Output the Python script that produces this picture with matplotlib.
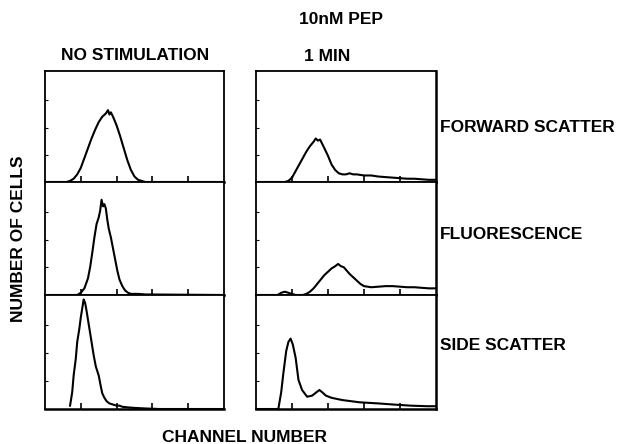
import matplotlib
matplotlib.use("Agg")
import matplotlib.pyplot as plt
import numpy as np

plt.rcParams['font.family'] = ['Liberation Sans', 'DejaVu Sans']

# channel number vs. relative cell count, traced by panel
fs_ctrl_x = [0, 30, 35, 40, 45, 50, 55, 60, 65, 70, 75, 80, 85, 88, 90, 92, 95, 100, 105, 110, 115, 120, 125, 130, 135, 140, 250]
fs_ctrl_y = [0, 0, 0.01, 0.03, 0.07, 0.13, 0.22, 0.31, 0.40, 0.48, 0.55, 0.60, 0.63, 0.66, 0.62, 0.64, 0.60, 0.52, 0.42, 0.31, 0.20, 0.11, 0.05, 0.02, 0.01, 0, 0]

fs_pep_x = [0, 40, 45, 50, 55, 60, 65, 70, 75, 80, 83, 86, 89, 92, 95, 100, 105, 110, 115, 120, 125, 130, 135, 140, 150, 160, 170, 180, 190, 200, 210, 220, 230, 240, 250]
fs_pep_y = [0, 0, 0.01, 0.04, 0.10, 0.16, 0.22, 0.28, 0.33, 0.37, 0.40, 0.38, 0.39, 0.35, 0.31, 0.24, 0.16, 0.11, 0.08, 0.07, 0.07, 0.08, 0.07, 0.07, 0.06, 0.06, 0.05, 0.045, 0.04, 0.035, 0.03, 0.03, 0.025, 0.02, 0.02]

fl_ctrl_x = [0, 45, 50, 55, 60, 63, 66, 69, 72, 75, 77, 79, 81, 83, 85, 87, 89, 92, 95, 98, 101, 104, 108, 112, 116, 120, 130, 140, 250]
fl_ctrl_y = [0, 0, 0.02, 0.06, 0.15, 0.25, 0.38, 0.52, 0.64, 0.70, 0.76, 0.86, 0.80, 0.82, 0.78, 0.68, 0.60, 0.52, 0.42, 0.32, 0.22, 0.14, 0.08, 0.04, 0.02, 0.01, 0.01, 0.005, 0]

fl_pep_x = [0, 30, 35, 40, 45, 50, 55, 65, 70, 75, 80, 85, 90, 95, 100, 105, 110, 114, 118, 122, 126, 130, 135, 140, 145, 150, 160, 170, 180, 190, 200, 210, 220, 230, 240, 250]
fl_pep_y = [0, 0, 0.02, 0.03, 0.02, 0.01, 0, 0, 0.01, 0.03, 0.06, 0.10, 0.14, 0.18, 0.21, 0.24, 0.26, 0.28, 0.26, 0.25, 0.22, 0.19, 0.16, 0.13, 0.10, 0.08, 0.07, 0.075, 0.08, 0.08, 0.075, 0.07, 0.07, 0.065, 0.06, 0.06]

ss_ctrl_x = [35, 38, 40, 43, 45, 48, 50, 52, 54, 56, 58, 60, 62, 65, 68, 71, 75, 78, 80, 83, 86, 90, 95, 100, 104, 108, 115, 125, 140, 160, 250]
ss_ctrl_y = [0.03, 0.15, 0.30, 0.45, 0.60, 0.72, 0.82, 0.90, 0.98, 0.95, 0.88, 0.80, 0.72, 0.60, 0.48, 0.38, 0.30, 0.20, 0.14, 0.10, 0.07, 0.05, 0.04, 0.03, 0.03, 0.02, 0.015, 0.01, 0.005, 0, 0]

ss_pep_x = [0, 31, 35, 38, 42, 45, 48, 51, 55, 59, 64, 71, 78, 84, 88, 92, 97, 105, 120, 144, 170, 191, 215, 238, 250]
ss_pep_y = [0, 0, 0.15, 0.32, 0.52, 0.60, 0.63, 0.58, 0.46, 0.26, 0.17, 0.11, 0.12, 0.15, 0.17, 0.15, 0.12, 0.10, 0.08, 0.06, 0.05, 0.04, 0.03, 0.025, 0.025]

row_labels = ["FORWARD SCATTER", "FLUORESCENCE", "SIDE SCATTER"]
channel_ticks = [50, 100, 150, 200]

panels = [
    [(fs_ctrl_x, fs_ctrl_y), (fs_pep_x, fs_pep_y)],
    [(fl_ctrl_x, fl_ctrl_y), (fl_pep_x, fl_pep_y)],
    [(ss_ctrl_x, ss_ctrl_y), (ss_pep_x, ss_pep_y)],
]

fig = plt.figure(figsize=(6.25, 4.44), dpi=100)

col_left = [0.072, 0.4096]
col_width = [0.2864, 0.288]
row_bottom = [0.5901, 0.3356, 0.0788]
row_height = [0.25, 0.2545, 0.2568]
label_y = [0.712, 0.471, 0.221]

fs = 12.5
for r in range(3):
    for c in range(2):
        ax = fig.add_axes([col_left[c], row_bottom[r], col_width[c], row_height[r]])
        x, y = panels[r][c]
        ax.plot(x, y, color='black', lw=1.5)
        ax.set_xlim(0, 250)
        ax.set_ylim(0, 1.02)
        ax.set_xticks(channel_ticks)
        ax.set_yticks([0.25, 0.5, 0.75])
        ax.tick_params(axis='x', direction='in', length=4, width=1.2, labelbottom=False)
        ax.tick_params(axis='y', direction='in', length=2, width=0.8, labelleft=False)
        for s in ax.spines.values():
            s.set_linewidth(1.3)
        ax.spines['bottom'].set_linewidth(1.8)
        if c == 1:
            ax.spines['right'].set_linewidth(1.8)
    fig.text(0.704, label_y[r], row_labels[r],
             fontsize=fs, fontweight='bold', ha='left', va='center')

fig.text(0.216, 0.874, "NO STIMULATION", fontsize=fs, fontweight='bold', ha='center', va='center')
fig.text(0.523, 0.872, "1 MIN", fontsize=fs, fontweight='bold', ha='center', va='center')
fig.text(0.546, 0.955, "10nM PEP", fontsize=fs, fontweight='bold', ha='center', va='center')
fig.text(0.0296, 0.462, "NUMBER OF CELLS", fontsize=fs, fontweight='bold', rotation=90, ha='center', va='center')
fig.text(0.392, 0.0155, "CHANNEL NUMBER", fontsize=fs, fontweight='bold', ha='center', va='center')

fig.savefig("out.png", dpi=100)
